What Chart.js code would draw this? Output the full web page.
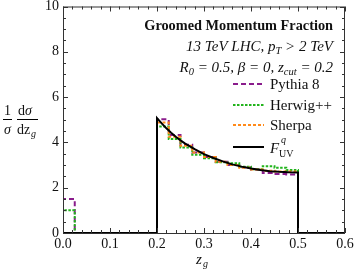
<!DOCTYPE html>
<html>
<head>
<meta charset="utf-8">
<script src="https://cdn.jsdelivr.net/npm/chart.js@4/dist/chart.umd.min.js"></script>
<style>
  html, body { margin: 0; padding: 0; background: #fff; }
  #wrap { width: 355px; height: 273px; position: relative; }
</style>
</head>
<body>
<div id="wrap"><canvas id="chart" width="355" height="273"></canvas></div>
<script>
// bin edges of the histograms (width 0.025)
const zEdges = [0, 0.025, 0.05, 0.075, 0.1, 0.125, 0.15, 0.175, 0.2, 0.225, 0.25,
    0.275, 0.3, 0.325, 0.35, 0.375, 0.4, 0.425, 0.45, 0.475, 0.5];
const pythia = [1.5, 0, 0, 0, 0, 0, 0, 0, 5.02, 4.33, 3.9, 3.55, 3.35, 3.15, 3.0, 2.9, 2.8, 2.65, 2.6, 2.58];
const herwig = [1.0, 0, 0, 0, 0, 0, 0, 0, 4.7, 4.15, 3.78, 3.45, 3.3, 3.12, 3.08, 2.92, 2.82, 2.95, 2.88, 2.78];
const sherpa = [0, 0, 0, 0, 0, 0, 0, 0, 4.88, 4.25, 3.85, 3.55, 3.35, 3.15, 3.0, 2.88, 2.8, 2.75, 2.72, 2.72];

// analytic curve, read at these z values
const zCurve = [0, 0.2, 0.2, 0.21, 0.22, 0.23, 0.24, 0.25, 0.26, 0.28, 0.3, 0.32, 0.34,
    0.36, 0.38, 0.4, 0.42, 0.44, 0.46, 0.48, 0.5, 0.5, 0.6];
const fCurve = [0, 0, 5.07, 4.84, 4.62, 4.43, 4.25, 4.09, 3.95, 3.7, 3.48, 3.31, 3.16,
    3.03, 2.93, 2.85, 2.78, 2.73, 2.7, 2.68, 2.67, 0, 0];

const xTicks = [0, 0.1, 0.2, 0.3, 0.4, 0.5, 0.6];
const yTicks = [0, 2, 4, 6, 8, 10];

const serif = "'Liberation Serif', 'DejaVu Serif', serif";

function steps(vals) {
    const pts = [{ x: zEdges[0], y: 0 }];
    vals.forEach((v, i) => pts.push({ x: zEdges[i + 1], y: v }));
    pts.push({ x: 0.6, y: 0 });
    return pts;
}

function histo(label, vals, color, dash, order) {
    return {
        label,
        data: steps(vals),
        borderColor: color,
        borderWidth: 2,
        borderDash: dash,
        stepped: "after",
        pointRadius: 0,
        fill: false,
        order,
    };
}

const series = [
    { label: "Pythia 8", color: "#8a1c8c", dash: [5, 3] },
    { label: "Herwig++", color: "#22b41c", dash: [2.5, 1.5] },
    { label: "Sherpa", color: "#ff8a1a", dash: [3, 2] },
];

// frame, inward ticks, texts
const decor = {
    id: "decor",
    afterDraw(chart) {
        const { ctx, chartArea: a, scales } = chart;
        const sx = scales.x, sy = scales.y;
        ctx.save();
        ctx.strokeStyle = "#333";
        ctx.lineWidth = 1;
        ctx.strokeRect(a.left + 0.5, a.top + 0.5, a.right - a.left - 1, a.bottom - a.top);
        ctx.beginPath();
        for (let i = 0; i <= 30; i++) {
            const v = i * 0.02;
            const px = Math.round(sx.getPixelForValue(v)) + 0.5;
            const len = i % 5 === 0 ? 5 : 3;
            ctx.moveTo(px, a.bottom); ctx.lineTo(px, a.bottom - len);
            ctx.moveTo(px, a.top); ctx.lineTo(px, a.top + len);
        }
        for (let i = 0; i <= 20; i++) {
            const v = i * 0.5;
            const py = Math.round(sy.getPixelForValue(v)) + 0.5;
            const len = i % 4 === 0 ? 5 : 3;
            ctx.moveTo(a.left, py); ctx.lineTo(a.left + len, py);
            ctx.moveTo(a.right, py); ctx.lineTo(a.right - len, py);
        }
        ctx.stroke();

        // title block
        ctx.fillStyle = "#111";
        ctx.textAlign = "right";
        ctx.textBaseline = "alphabetic";
        ctx.font = "bold 14.3px " + serif;
        ctx.fillText("Groomed Momentum Fraction", 333, 30);

        let x = 333, y = 51;
        const rtext = (parts) => {
            for (let i = parts.length - 1; i >= 0; i--) {
                const [t, f, dy] = parts[i];
                ctx.font = f;
                ctx.fillText(t, x, y + dy);
                x -= ctx.measureText(t).width;
            }
        };
        const it = "italic 15px " + serif, sub = "italic 10.5px " + serif;
        rtext([["13 TeV LHC, ", it, 0], ["p", it, 0], ["T", sub, 3], [" > 2 TeV", it, 0]]);
        x = 333; y = 72;
        rtext([["R", it, 0], ["0", sub, 3], [" = 0.5, ", it, 0], ["\u03B2", it, 0],
            [" = 0, ", it, 0], ["z", it, 0], ["cut", sub, 3], [" = 0.2", it, 0]]);

        // legend
        ctx.textAlign = "left";
        const ly = [84, 105, 125];
        series.forEach((s, i) => {
            ctx.strokeStyle = s.color;
            ctx.lineWidth = 2;
            ctx.setLineDash(s.dash);
            ctx.beginPath();
            ctx.moveTo(233, ly[i]); ctx.lineTo(264, ly[i]);
            ctx.stroke();
            ctx.setLineDash([]);
            ctx.font = "15px " + serif;
            ctx.fillStyle = "#111";
            ctx.fillText(s.label, 270, ly[i] + 5);
        });
        ctx.strokeStyle = "#000";
        ctx.lineWidth = 2;
        ctx.beginPath();
        ctx.moveTo(233, 147); ctx.lineTo(264, 147);
        ctx.stroke();
        ctx.font = "italic 15px " + serif;
        ctx.fillText("F", 270, 153);
        ctx.font = "italic 10px " + serif;
        ctx.fillText("q", 281, 143);
        ctx.font = "10px " + serif;
        ctx.fillText("UV", 279, 157);

        // y axis label
        ctx.textAlign = "center";
        ctx.font = "14px " + serif;
        ctx.fillText("1", 7.5, 115);
        ctx.font = "italic 14px " + serif;
        ctx.fillText("\u03C3", 7.5, 134);
        ctx.font = "14px " + serif;
        ctx.textAlign = "left";
        ctx.fillText("d", 18, 115);
        ctx.font = "italic 14px " + serif;
        ctx.fillText("\u03C3", 25, 115);
        ctx.font = "14px " + serif;
        ctx.fillText("dz", 17, 134);
        ctx.font = "italic 10px " + serif;
        ctx.fillText("g", 31, 137);
        ctx.lineWidth = 1;
        ctx.beginPath();
        ctx.moveTo(3, 119.5); ctx.lineTo(12, 119.5);
        ctx.moveTo(17, 119.5); ctx.lineTo(38, 119.5);
        ctx.stroke();

        // x axis label
        ctx.font = "italic 15px " + serif;
        ctx.fillText("z", 196, 264);
        ctx.font = "italic 10px " + serif;
        ctx.fillText("g", 203, 267);
        ctx.restore();
    },
};

new Chart(document.getElementById("chart"), {
    type: "line",
    data: {
        datasets: [
            {
                label: "F_UV",
                data: zCurve.map((z, i) => ({ x: z, y: fCurve[i] })),
                borderColor: "#000",
                borderWidth: 2,
                pointRadius: 0,
                fill: false,
                order: 0,
            },
            histo(series[2].label, sherpa, series[2].color, series[2].dash, 1),
            histo(series[1].label, herwig, series[1].color, series[1].dash, 2),
            histo(series[0].label, pythia, series[0].color, series[0].dash, 3),
        ],
    },
    options: {
        responsive: false,
        animation: false,
        layout: { padding: 0 },
        plugins: { legend: { display: false }, tooltip: { enabled: false } },
        scales: {
            x: {
                type: "linear",
                min: 0,
                max: 0.6,
                afterBuildTicks: (s) => { s.ticks = xTicks.map((v) => ({ value: v })); },
                afterFit: (s) => {
                    s.height = 40;
                    s.paddingLeft = 0;
                    s.paddingRight = 10;
                },
                grid: { display: false, drawTicks: false },
                border: { display: false },
                ticks: {
                    color: "#111",
                    padding: 3,
                    maxRotation: 0,
                    font: { family: serif, size: 14 },
                    callback: (v) => v.toFixed(1),
                },
            },
            y: {
                type: "linear",
                min: 0,
                max: 10,
                afterBuildTicks: (s) => { s.ticks = yTicks.map((v) => ({ value: v })); },
                afterFit: (s) => {
                    s.width = 63;
                    s.paddingTop = 6.5;
                    s.paddingBottom = 0;
                },
                grid: { display: false, drawTicks: false },
                border: { display: false },
                ticks: {
                    color: "#111",
                    padding: 4,
                    font: { family: serif, size: 14 },
                },
            },
        },
    },
    plugins: [decor],
});
</script>
</body>
</html>
